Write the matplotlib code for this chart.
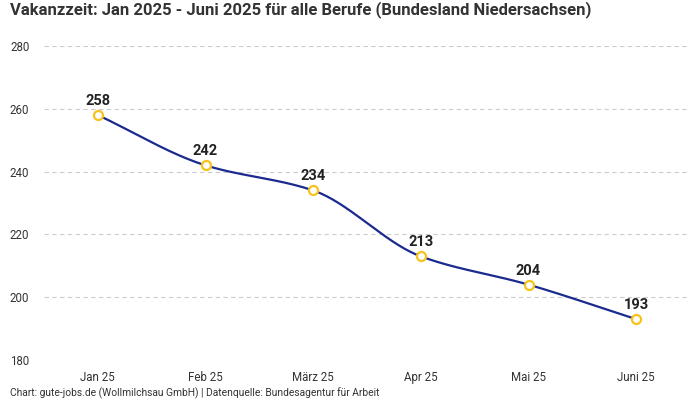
import numpy as np
import matplotlib
matplotlib.use("Agg")
import matplotlib.pyplot as plt

months = ["Jan 25", "Feb 25", "März 25", "Apr 25", "Mai 25", "Juni 25"]
vakanz = [258, 242, 234, 213, 204, 193]
y_ticks = [180, 200, 220, 240, 260, 280]

title = "Vakanzzeit: Jan 2025 - Juni 2025 für alle Berufe (Bundesland Niedersachsen)"
footer = "Chart: gute-jobs.de (Wollmilchsau GmbH) | Datenquelle: Bundesagentur für Arbeit"

line_col = "#1b2a8e"
dot_col = "#f7c31b"
txt_col = "#333333"

plt.rcParams['font.family'] = ['Roboto', 'DejaVu Sans']


def monotone(x, y, n=40):
    # monotone cubic hermite, like d3 curveMonotoneX
    x = np.asarray(x, float)
    y = np.asarray(y, float)
    h = np.diff(x)
    d = np.diff(y) / h
    m = np.zeros(len(x))
    m[0] = d[0]
    m[-1] = d[-1]
    for i in range(1, len(x) - 1):
        if d[i - 1] * d[i] <= 0:
            m[i] = 0
        else:
            m[i] = 2 / (1 / d[i - 1] + 1 / d[i])
    xs, ys = [], []
    for i in range(len(x) - 1):
        t = np.linspace(0, 1, n)
        h00 = 2 * t**3 - 3 * t**2 + 1
        h10 = t**3 - 2 * t**2 + t
        h01 = -2 * t**3 + 3 * t**2
        h11 = t**3 - t**2
        xs.append(x[i] + t * h[i])
        ys.append(h00 * y[i] + h10 * h[i] * m[i] + h01 * y[i + 1] + h11 * h[i] * m[i + 1])
    return np.concatenate(xs), np.concatenate(ys)


fig = plt.figure(figsize=(7, 4), dpi=100)
ax = fig.add_axes([44 / 700, 0.1, 646 / 700, 0.785])

xpos = np.arange(len(months))
sx, sy = monotone(xpos, vakanz)
ax.plot(sx, sy, color=line_col, lw=1.6, zorder=2)
ax.plot(xpos, vakanz, "o", ms=6.5, mfc="white", mec=dot_col, mew=1.6, zorder=3)
for xi, v in zip(xpos, vakanz):
    ax.annotate(str(v), (xi, v), xytext=(0, 5), textcoords="offset points",
                ha="center", va="bottom", fontsize=10.5, fontweight="semibold", color="#222222")

ax.set_xlim(-0.5, len(months) - 0.5)
ax.set_ylim(180, 280)
ax.set_yticks(y_ticks)
ax.set_xticks(xpos)
ax.set_xticklabels(months)
ax.grid(axis="y", color="#cccccc", ls=(0, (4, 3)), lw=0.8)
ax.set_axisbelow(True)
for s in ax.spines.values():
    s.set_visible(False)
ax.tick_params(length=0, labelsize=8.3, colors=txt_col)
ax.tick_params(axis="y", pad=10.5)
ax.tick_params(axis="x", pad=8)

fig.text(10 / 700, 1 - 10 / 400, title, fontsize=12.0, fontweight="bold", color=txt_col, va="center")
fig.text(10 / 700, 1 - 393 / 400, footer, fontsize=7.4, color=txt_col, va="center")

fig.savefig("out.png", dpi=100)
